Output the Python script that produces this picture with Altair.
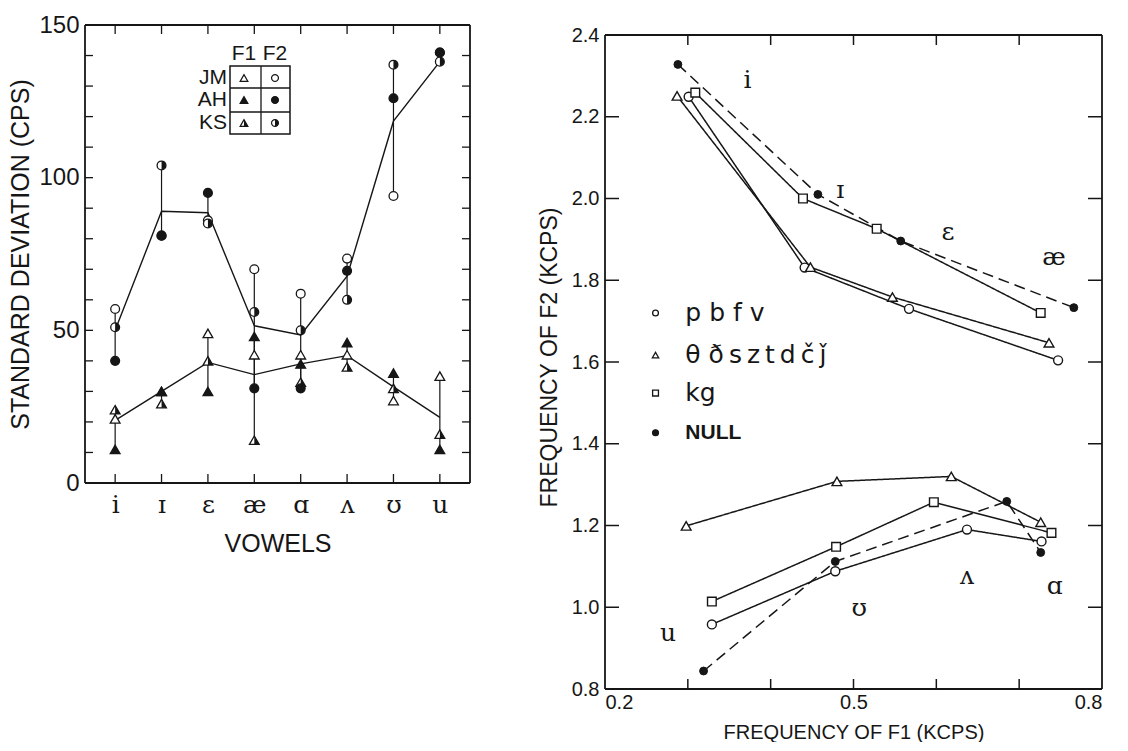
import altair as alt
import pandas as pd

# ---------------- Left panel: standard deviations ----------------
vowels = ["i", "ɪ", "ɛ", "æ", "ɑ", "ʌ", "ʊ", "u"]
speakers = ["JM", "AH", "KS"]
formants = ["F1", "F2"]
f2_jm = [57, 81, 86, 70, 62, 73.5, 94, 141]
f2_ah = [40, 81, 95, 31, 31, 69.5, 126, 141]
f2_ks = [51, 104, 85, 56, 50, 60, 137, 138]
f1_jm = [21, 30, 49, 42, 42, 42, 27, 35]
f1_ah = [11, 30, 30, 48, 39, 46, 36, 11]
f1_ks = [24, 26, 40, 14, 33, 38, 31, 16]
f2_mean = [50, 89, 88.5, 51.5, 48.5, 67.7, 118.5, 138]
f1_mean = [20.5, 30, 39.5, 35.5, 39, 41.7, 31.5, 21.5]
sd_tick_values = [0, 10, 20, 30, 40, 50, 60, 70, 80, 90, 100, 110, 120, 130, 140, 150]
sd_label_values = [0, 50, 100, 150]

# ---------------- Right panel: F1 / F2 frequencies ----------------
classes = ["pbfv", "θðsztdčǰ", "kg", "NULL"]
class_labels = ["p b f v", "θ ð\u2009s\u2009z\u2009t\u2009d\u2009č\u2009ǰ", "kg", "NULL"]
front_vowels = ["i", "ɪ", "ɛ", "æ"]
back_vowels = ["u", "ʊ", "ʌ", "ɑ"]
pbfv_front_f1 = [0.301, 0.441, 0.567, 0.747]
pbfv_front_f2 = [2.249, 1.831, 1.730, 1.604]
theta_front_f1 = [0.287, 0.448, 0.547, 0.736]
theta_front_f2 = [2.251, 1.832, 1.759, 1.647]
kg_front_f1 = [0.309, 0.439, 0.528, 0.726]
kg_front_f2 = [2.259, 2.000, 1.926, 1.720]
null_front_f1 = [0.288, 0.457, 0.557, 0.766]
null_front_f2 = [2.328, 2.010, 1.896, 1.733]
pbfv_back_f1 = [0.329, 0.478, 0.637, 0.727]
pbfv_back_f2 = [0.958, 1.088, 1.190, 1.161]
theta_back_f1 = [0.298, 0.480, 0.618, 0.726]
theta_back_f2 = [1.199, 1.308, 1.320, 1.208]
kg_back_f1 = [0.329, 0.479, 0.597, 0.739]
kg_back_f2 = [1.014, 1.148, 1.257, 1.182]
null_back_f1 = [0.319, 0.478, 0.685, 0.726]
null_back_f2 = [0.844, 1.112, 1.259, 1.134]
label_vowels = ["i", "ɪ", "ɛ", "æ", "ʌ", "ɑ", "ʊ", "u"]
label_f1 = [0.372, 0.484, 0.614, 0.742, 0.637, 0.743, 0.507, 0.276]
label_f2 = [2.290, 2.020, 1.917, 1.856, 1.076, 1.051, 0.999, 0.938]
legend_f1_marker = 0.261
legend_f1_text = 0.297
legend_f2_rows = [1.720, 1.617, 1.524, 1.427]
f1_tick_values = [0.3, 0.4, 0.5, 0.6, 0.7]
f1_label_values = [0.2, 0.5, 0.8]
f2_tick_values = [0.8, 1.0, 1.2, 1.4, 1.6, 1.8, 2.0, 2.2, 2.4]

INK = "#161616"
SANS = "Liberation Sans"
HALF_CIRCLE = "M0,-1 A1,1 0 0,1 0,1 Z"
HALF_TRI = "M0,-0.866 L1,0.866 L0,0.866 Z"
one = pd.DataFrame({"d": [0]})


def frame(w, h, top=0):
    """Box around a plot area drawn with rules (pixel decoration)."""
    kw = dict(color=INK, strokeWidth=1.8)
    return [
        alt.Chart(one).mark_rule(**kw).encode(x=alt.value(0), x2=alt.value(w), y=alt.value(top)),
        alt.Chart(one).mark_rule(**kw).encode(x=alt.value(0), x2=alt.value(w), y=alt.value(h)),
        alt.Chart(one).mark_rule(**kw).encode(x=alt.value(0), y=alt.value(top), y2=alt.value(h)),
        alt.Chart(one).mark_rule(**kw).encode(x=alt.value(w), y=alt.value(top), y2=alt.value(h)),
    ]


# ---------------- build left tables ----------------
series = {("JM", "F2"): f2_jm, ("AH", "F2"): f2_ah, ("KS", "F2"): f2_ks,
          ("JM", "F1"): f1_jm, ("AH", "F1"): f1_ah, ("KS", "F1"): f1_ks}
rows = []
for (spk, fm), vals in series.items():
    for v, val in zip(vowels, vals):
        rows.append({"vowel": v, "speaker": spk, "formant": fm, "value": val})
left_pts = pd.DataFrame(rows)
mrows = []
for fm, vals in (("F2", f2_mean), ("F1", f1_mean)):
    for i, (v, val) in enumerate(zip(vowels, vals)):
        mrows.append({"vowel": v, "formant": fm, "idx": i, "value": val})
left_mean = pd.DataFrame(mrows)

W1, H1 = 385, 458
x_left = alt.X("vowel:N", sort=vowels,
               scale=alt.Scale(type="point", padding=0.65, domain=vowels),
               axis=alt.Axis(title="VOWELS", labelAngle=0, labelFont="DejaVu Serif",
                             labelFontSize=25, labelPadding=9, labelColor=INK,
                             titleFont=SANS, titleFontSize=25, titleFontWeight="normal",
                             titleColor=INK, titlePadding=14, ticks=False, domain=False,
                             grid=False))
y_scale_left = alt.Scale(domain=[0, 150], nice=False, zero=True)
y_left_axis = alt.Axis(title="STANDARD DEVIATION (CPS)", values=sd_label_values,
                       ticks=False, domain=False, grid=False, labelFont=SANS,
                       labelFontSize=24, labelPadding=6, labelColor=INK,
                       titleFont=SANS, titleFontSize=25, titleFontWeight="normal",
                       titleColor=INK, titlePadding=5)


def yl(field):
    return alt.Y(field, scale=y_scale_left, axis=y_left_axis, title="STANDARD DEVIATION (CPS)")


fill_scale = alt.Scale(domain=speakers, range=["white", INK, "white"])
shape_of = {"F1": "triangle-up", "F2": "circle"}
half_of = {"F1": HALF_TRI, "F2": HALF_CIRCLE}
size_of = {"F1": 95, "F2": 78}

rules = alt.Chart(left_pts).mark_rule(color=INK, strokeWidth=1.2).encode(
    x=x_left, y=yl("min(value):Q"), y2=alt.Y2("max(value):Q"), detail="formant:N")

mean_lines = alt.Chart(left_mean).mark_line(color=INK, strokeWidth=1.4).encode(
    x=x_left, y=yl("value:Q"), detail="formant:N", order=alt.Order("idx:Q"))

pt_layers = []
for fm in formants:
    sub = alt.Chart(left_pts).transform_filter(alt.datum.formant == fm)
    pt_layers.append(sub.mark_point(filled=True, stroke=INK, strokeWidth=1.3,
                                    opacity=1, shape=shape_of[fm], size=size_of[fm]).encode(
        x=x_left, y=yl("value:Q"),
        fill=alt.Fill("speaker:N", scale=fill_scale, legend=None)))
    pt_layers.append(sub.transform_filter(alt.datum.speaker == "KS").mark_point(
        filled=True, fill=INK, strokeWidth=0, opacity=1, shape=half_of[fm],
        size=size_of[fm]).encode(x=x_left, y=yl("value:Q")))

ticks_df = pd.DataFrame({"value": sd_tick_values})
yticks_l = alt.Chart(ticks_df).mark_rule(color=INK, strokeWidth=1.3).encode(
    x=alt.value(0), x2=alt.value(8), y=yl("value:Q"))
yticks_r = alt.Chart(ticks_df).mark_rule(color=INK, strokeWidth=1.3).encode(
    x=alt.value(W1 - 8), x2=alt.value(W1), y=yl("value:Q"))
vt_df = pd.DataFrame({"vowel": vowels})
xticks_t = alt.Chart(vt_df).mark_rule(color=INK, strokeWidth=1.3).encode(
    x=x_left, y=alt.value(0), y2=alt.value(9))
xticks_b = alt.Chart(vt_df).mark_rule(color=INK, strokeWidth=1.3).encode(
    x=x_left, y=alt.value(H1 - 9), y2=alt.value(H1))

# legend table (decoration, pixel placed)
bx0, bx1, by0, by1 = 145, 205, 41, 109
leg_layers = [
    alt.Chart(one).mark_rect(fillOpacity=0, stroke=INK, strokeWidth=1.5).encode(
        x=alt.value(bx0), x2=alt.value(bx1), y=alt.value(by0), y2=alt.value(by1)),
    alt.Chart(one).mark_rule(color=INK, strokeWidth=1.3).encode(
        x=alt.value(176), y=alt.value(by0), y2=alt.value(by1)),
    alt.Chart(one).mark_rule(color=INK, strokeWidth=1.3).encode(
        x=alt.value(bx0), x2=alt.value(bx1), y=alt.value(63)),
    alt.Chart(one).mark_rule(color=INK, strokeWidth=1.3).encode(
        x=alt.value(bx0), x2=alt.value(bx1), y=alt.value(87)),
]
col_x = {"F1": 159, "F2": 190}
row_y = {"JM": 53, "AH": 75, "KS": 98}
for fm in formants:
    leg_layers.append(alt.Chart(one).mark_text(font=SANS, fontSize=21, color=INK,
                                               align="center", baseline="middle").encode(
        x=alt.value(col_x[fm]), y=alt.value(29), text=alt.value(fm)))
for spk in speakers:
    leg_layers.append(alt.Chart(one).mark_text(font=SANS, fontSize=21, color=INK,
                                               align="right", baseline="middle").encode(
        x=alt.value(142), y=alt.value(row_y[spk]), text=alt.value(spk)))
    for fm in formants:
        sz = 60 if fm == "F1" else 48
        fillc = INK if spk == "AH" else "white"
        leg_layers.append(alt.Chart(one).mark_point(filled=True, stroke=INK,
                                                    strokeWidth=1.2, opacity=1).encode(
            x=alt.value(col_x[fm]), y=alt.value(row_y[spk]), shape=alt.value(shape_of[fm]),
            size=alt.value(sz), fill=alt.value(fillc)))
        if spk == "KS":
            leg_layers.append(alt.Chart(one).mark_point(filled=True, fill=INK,
                                                        strokeWidth=0, opacity=1).encode(
                x=alt.value(col_x[fm]), y=alt.value(row_y[spk]),
                shape=alt.value(half_of[fm]), size=alt.value(sz)))

left = alt.layer(*frame(W1, H1), yticks_l, yticks_r, xticks_t, xticks_b, rules,
                 mean_lines, *pt_layers, *leg_layers).properties(width=W1, height=H1)

# ---------------- build right tables ----------------
groups = {
    ("pbfv", "front"): (pbfv_front_f1, pbfv_front_f2),
    ("θðsztdčǰ", "front"): (theta_front_f1, theta_front_f2),
    ("kg", "front"): (kg_front_f1, kg_front_f2),
    ("NULL", "front"): (null_front_f1, null_front_f2),
    ("pbfv", "back"): (pbfv_back_f1, pbfv_back_f2),
    ("θðsztdčǰ", "back"): (theta_back_f1, theta_back_f2),
    ("kg", "back"): (kg_back_f1, kg_back_f2),
    ("NULL", "back"): (null_back_f1, null_back_f2),
}
rrows = []
for (cls, grp), (a1, a2) in groups.items():
    vl = front_vowels if grp == "front" else back_vowels
    for i, (v, x1, x2) in enumerate(zip(vl, a1, a2)):
        rrows.append({"cls": cls, "grp": grp, "key": cls + grp, "idx": i,
                      "vowel": v, "f1": x1, "f2": x2})
right_df = pd.DataFrame(rrows)
labels_df = pd.DataFrame({"vowel": label_vowels, "f1": label_f1, "f2": label_f2})
legend_df = pd.DataFrame({"cls": classes, "label": class_labels,
                          "f1": [legend_f1_marker] * 4,
                          "f2": legend_f2_rows, "tf1": [legend_f1_text] * 4})

W2, PH2, DY = 497, 654, 10          # plot box 497x654, pushed 10px below the top
H2 = PH2 + DY
y_top = 0.8 + 1.6 * H2 / PH2
x_scale_r = alt.Scale(domain=[0.2, 0.8], nice=False, zero=False)
y_scale_r = alt.Scale(domain=[0.8, y_top], nice=False, zero=False)
x_axis_r = alt.Axis(values=f1_label_values, format=".1f", title="FREQUENCY OF F1 (KCPS)",
                    ticks=False, domain=False, grid=False, labelFont=SANS,
                    labelFontSize=20, labelPadding=3, labelColor=INK,
                    labelFlush=True, titleFont=SANS, titleFontSize=20,
                    titleFontWeight="normal", titleColor=INK, titlePadding=10)
y_axis_r = alt.Axis(values=f2_tick_values, format=".1f", title="FREQUENCY OF F2 (KCPS)",
                    ticks=False, domain=False, grid=False, labelFont=SANS,
                    labelFontSize=20, labelPadding=6, labelColor=INK, labelFlush=False,
                    titleFont=SANS, titleFontSize=23, titleFontWeight="normal",
                    titleColor=INK, titlePadding=10)


def xr(field="f1:Q"):
    return alt.X(field, scale=x_scale_r, axis=x_axis_r, title="FREQUENCY OF F1 (KCPS)")


def yr(field="f2:Q"):
    return alt.Y(field, scale=y_scale_r, axis=y_axis_r, title="FREQUENCY OF F2 (KCPS)")


dash_scale = alt.Scale(domain=classes, range=[[1, 0], [1, 0], [1, 0], [11, 6]])
lines_r = alt.Chart(right_df).mark_line(color=INK, strokeWidth=1.5).encode(
    x=xr(), y=yr(), detail="key:N", order=alt.Order("idx:Q"),
    strokeDash=alt.StrokeDash("cls:N", scale=dash_scale, legend=None))

cls_shape = {"pbfv": "circle", "θðsztdčǰ": "triangle-up", "kg": "square", "NULL": "circle"}
cls_size = {"pbfv": 80, "θðsztdčǰ": 95, "kg": 75, "NULL": 62}
cls_leg_size = {"pbfv": 34, "θðsztdčǰ": 40, "kg": 34, "NULL": 34}
pts_r = []
for cls in classes:
    filled_black = cls == "NULL"
    pts_r.append(alt.Chart(right_df).transform_filter(alt.datum.cls == cls).mark_point(
        filled=True, fill=INK if filled_black else "white", stroke=INK,
        strokeWidth=1.0 if filled_black else 1.4, opacity=1, shape=cls_shape[cls],
        size=cls_size[cls]).encode(x=xr(), y=yr()))
    pts_r.append(alt.Chart(legend_df).transform_filter(alt.datum.cls == cls).mark_point(
        filled=True, fill=INK if filled_black else "white", stroke=INK,
        strokeWidth=1.3, opacity=1, shape=cls_shape[cls],
        size=cls_leg_size[cls]).encode(x=xr(), y=yr()))

vowel_labels = alt.Chart(labels_df).mark_text(font="DejaVu Serif", fontSize=25,
                                              color=INK, align="center",
                                              baseline="middle").encode(
    x=xr(), y=yr(), text="vowel:N")

leg_txt_big = alt.Chart(legend_df).transform_filter(alt.datum.cls != "NULL").mark_text(
    font="DejaVu Sans", fontSize=25, color=INK, align="left", baseline="middle").encode(
    x=xr("tf1:Q"), y=yr(), text=alt.Text("label:N"))
leg_txt_null = alt.Chart(legend_df).transform_filter(alt.datum.cls == "NULL").mark_text(
    font=SANS, fontSize=21, fontWeight="bold", color=INK, align="left",
    baseline="middle").encode(
    x=xr("tf1:Q"), y=yr(), text=alt.Text("label:N"))

rt_y = pd.DataFrame({"f2": f2_tick_values})
rt_x = pd.DataFrame({"f1": f1_tick_values})
r_ticks = [
    alt.Chart(rt_y).mark_rule(color=INK, strokeWidth=1.5).encode(
        x=alt.value(0), x2=alt.value(14), y=yr()),
    alt.Chart(rt_y).mark_rule(color=INK, strokeWidth=1.5).encode(
        x=alt.value(W2 - 14), x2=alt.value(W2), y=yr()),
    alt.Chart(rt_x).mark_rule(color=INK, strokeWidth=1.5).encode(
        x=xr(), y=alt.value(DY), y2=alt.value(DY + 10)),
    alt.Chart(rt_x).mark_rule(color=INK, strokeWidth=1.5).encode(
        x=xr(), y=alt.value(H2 - 10), y2=alt.value(H2)),
]

right = alt.layer(*frame(W2, H2, DY), lines_r, *r_ticks, *pts_r, vowel_labels,
                  leg_txt_big, leg_txt_null).properties(width=W2, height=H2)

chart = alt.hconcat(left, right, spacing=67).properties(
    padding={"left": 0, "top": 5, "right": 0, "bottom": 0}
).configure_view(strokeWidth=0)

chart.save("out.html", embed_options={"renderer": "svg", "actions": False})
